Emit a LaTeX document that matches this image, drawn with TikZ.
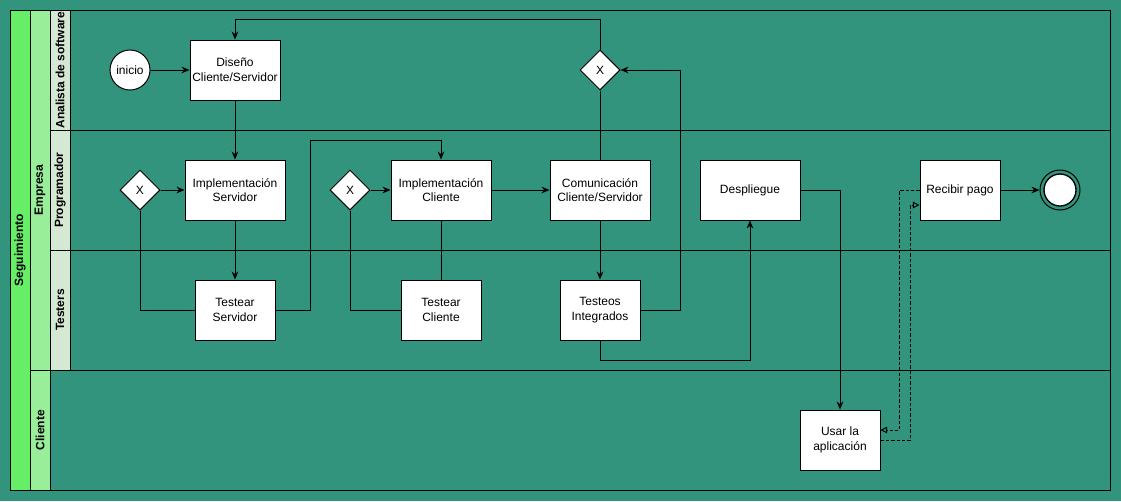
\documentclass[tikz,border=0pt]{standalone}
\usepackage{fontspec}
\setmainfont{Liberation Sans}
\usetikzlibrary{shapes.geometric,arrows.meta,calc}
\definecolor{bgteal}{RGB}{51,148,125}
\definecolor{poolg}{RGB}{102,238,102}
\definecolor{laneg}{RGB}{153,238,153}
\definecolor{subg}{RGB}{213,232,212}
\tikzset{
  every path/.style={line width=0.75pt},
  txt/.style={font=\fontsize{9}{11}\selectfont},
  hdr/.style={font=\fontsize{9}{11}\selectfont\bfseries, rotate=90},
  task/.style={draw, fill=white, align=center, txt, inner sep=0pt, minimum height=45pt},
  gate/.style={draw, fill=white, diamond, aspect=1, inner sep=0pt, minimum width=30pt, minimum height=30pt, font=\fontsize{9}{11}\selectfont},
  startev/.style={draw, fill=white, circle, inner sep=0pt, minimum size=30pt, txt},
  arr/.style={-{Stealth[length=6pt,width=5pt]}},
  msg/.style={dashed, dash pattern=on 2.5pt off 1.5pt, -{Triangle[open,length=5pt,width=5pt]}},
}
\begin{document}
\begin{tikzpicture}[x=0.75pt,y=-0.75pt]
\useasboundingbox (0,0) rectangle (1121,501);
\fill[bgteal] (0,0) rectangle (1121,501);
% pool and lanes
\draw (10,10) rectangle (1110,490);
\draw[fill=poolg] (10,10) rectangle (30,490);
\draw[fill=laneg] (30,10) rectangle (50,370);
\draw[fill=laneg] (30,370) rectangle (50,490);
\draw[fill=subg] (50,10) rectangle (70,130);
\draw[fill=subg] (50,130) rectangle (70,250);
\draw[fill=subg] (50,250) rectangle (70,370);
\draw (70,130) -- (1110,130);
\draw (70,250) -- (1110,250);
\draw (50,370) -- (1110,370);
\node[hdr] (hSeg) at (20,250) {Seguimiento};
\node[hdr] (hEmp) at (40,190) {Empresa};
\node[hdr] (hCli) at (40,430) {Cliente};
\node[hdr] (hAna) at (60,70) {Analista de software};
\node[hdr] (hPro) at (60,190) {Programador};
\node[hdr] (hTes) at (60,310) {Testers};
% nodes
\node[startev] (inicio) at (130,70) {inicio};
\node[task, minimum width=67.5pt] (dis) at (235,70) {Diseño\\Cliente/Servidor};
\node[gate] (g3) at (600,70) {X};
\node[gate] (g1) at (140,190) {X};
\node[task, minimum width=75pt] (impS) at (235,190) {Implementación\\Servidor};
\node[gate] (g2) at (350,190) {X};
\node[task, minimum width=75pt] (impC) at (441,190) {Implementación\\Cliente};
\node[task, minimum width=75pt] (com) at (600,190) {Comunicación\\Cliente/Servidor};
\node[task, minimum width=75pt] (dep) at (750,190) {Despliegue};
\node[task, minimum width=60pt] (rec) at (960,190) {Recibir pago};
\node[draw, circle, fill=bgteal, inner sep=0pt, minimum size=30pt] (end) at (1060,190) {};
\node[draw, circle, fill=white, inner sep=0pt, minimum size=24pt, line width=1pt] (endin) at (1060,190) {};
\node[task, minimum width=60pt] (tS) at (235,310) {Testear\\Servidor};
\node[task, minimum width=60pt] (tC) at (441,310) {Testear\\Cliente};
\node[task, minimum width=60pt] (tI) at (600,310) {Testeos\\Integrados};
\node[task, minimum width=60pt] (usar) at (840,440) {Usar la\\aplicación};
% connectors
\draw[arr] (inicio) -- (dis);
\draw[arr] (dis) -- (impS);
\draw[arr] (g1) -- (impS);
\draw (g1.south) |- (tS.west);
\draw[arr] (impS) -- (tS);
\draw[arr] (tS.east) -- ++(35,0) -- ++(0,-170) -| (impC.north);
\draw[arr] (g2) -- (impC);
\draw (g2.south) |- (tC.west);
\draw (impC) -- (tC);
\draw[arr] (impC) -- (com);
\draw[arr] (com) -- (tI);
\draw[arr] (tI.east) -- ++(40,0) |- (g3.east);
\draw (g3) -- (com);
\draw[arr] (g3.north) -- ++(0,-30) -| (dis.north);
\draw[arr] (tI.south) -- ++(0,20) -| (dep.south);
\draw[arr] (dep.east) -| (usar.north);
\draw[msg] (rec.west) -- ++(-20,0) |- ($(usar.east)+(0,-10)$);
\draw[msg] (usar.east) -- ++(30,0) |- ($(rec.west)+(0,15)$);
\draw[arr] (rec) -- (end);
\end{tikzpicture}
\end{document}
